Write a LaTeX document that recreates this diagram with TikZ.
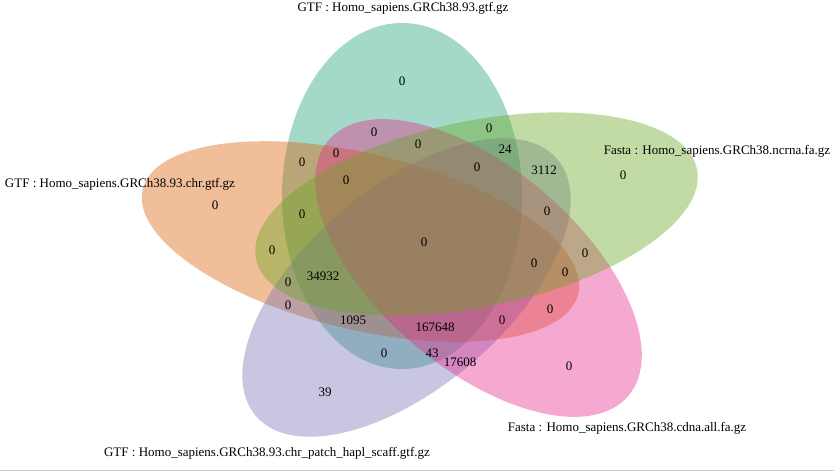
\documentclass[tikz,border=0pt]{standalone}
\usepackage{fontspec}
\setmainfont{Liberation Serif}
\definecolor{dteal}{HTML}{1B9E77}
\definecolor{dorange}{HTML}{D95F02}
\definecolor{dpurple}{HTML}{7570B3}
\definecolor{dpink}{HTML}{E7298A}
\definecolor{dgreen}{HTML}{66A61E}
\definecolor{rulegray}{HTML}{CCCCCC}
\begin{document}
\begin{tikzpicture}[x=1pt,y=-1pt,
  setfill/.style={fill=#1, fill opacity=0.4, draw=none},
  num/.style={font=\fontsize{13}{15}\selectfont, inner sep=0pt, text=black},
  setlabel/.style={font=\fontsize{13}{15}\selectfont, inner sep=0pt, text=black}]
\useasboundingbox (0,0) rectangle (834,471);
% sets (drawn in order)
\fill[setfill=dteal] (402,196) ellipse [x radius=120pt, y radius=173pt];
\fill[setfill=dorange, rotate around={-13.5:(360.5,241.5)}] (360.5,241.5) ellipse [x radius=224pt, y radius=88pt];
\fill[setfill=dpurple, rotate around={40.4:(406.5,287.5)}] (406.5,287.5) ellipse [x radius=198pt, y radius=100pt];
\fill[setfill=dpink, rotate around={-40.5:(478.5,268)}] (478.5,268) ellipse [x radius=197pt, y radius=100pt];
\fill[setfill=dgreen, rotate around={11.5:(476.5,214)}] (476.5,214) ellipse [x radius=225pt, y radius=93pt];
% bottom rule
\draw[rulegray, line width=1pt] (0,470.5) -- (834,470.5);
% set labels
\node[setlabel] (lteal) at (403,8) {GTF : Homo\_sapiens.GRCh38.93.gtf.gz};
\node[setlabel] (lorange) at (120,184) {GTF : Homo\_sapiens.GRCh38.93.chr.gtf.gz};
\node[setlabel] (lgreen) at (717,151) {Fasta : Homo\_sapiens.GRCh38.ncrna.fa.gz};
\node[setlabel] (lpink) at (627,428) {Fasta : Homo\_sapiens.GRCh38.cdna.all.fa.gz};
\node[setlabel] (lpurple) at (267,453) {GTF : Homo\_sapiens.GRCh38.93.chr\_patch\_hapl\_scaff.gtf.gz};
% region counts
\node[num] (n1) at (402,81) {0};
\node[num] (n2) at (374,132) {0};
\node[num] (n3) at (489,128) {0};
\node[num] (n4) at (505,149) {24};
\node[num] (n5) at (418,144) {0};
\node[num] (n6) at (302,162) {0};
\node[num] (n7) at (336,153) {0};
\node[num] (n8) at (477,167) {0};
\node[num] (n9) at (544,170) {3112};
\node[num] (n10) at (346,180) {0};
\node[num] (n11) at (302,214) {0};
\node[num] (n12) at (547,211) {0};
\node[num] (n13) at (623,175) {0};
\node[num] (n14) at (215,205) {0};
\node[num] (n15) at (272,250) {0};
\node[num] (n16) at (424,242) {0};
\node[num] (n17) at (323,276) {34932};
\node[num] (n18) at (288,282) {0};
\node[num] (n19) at (288,305) {0};
\node[num] (n20) at (353,320) {1095};
\node[num] (n21) at (435,327) {167648};
\node[num] (n22) at (502,320) {0};
\node[num] (n23) at (534,263) {0};
\node[num] (n24) at (565,272) {0};
\node[num] (n25) at (585,253) {0};
\node[num] (n26) at (550,309) {0};
\node[num] (n27) at (384,353) {0};
\node[num] (n28) at (432,353) {43};
\node[num] (n29) at (460,362) {17608};
\node[num] (n30) at (569,366) {0};
\node[num] (n31) at (325,392) {39};
\end{tikzpicture}
\end{document}
